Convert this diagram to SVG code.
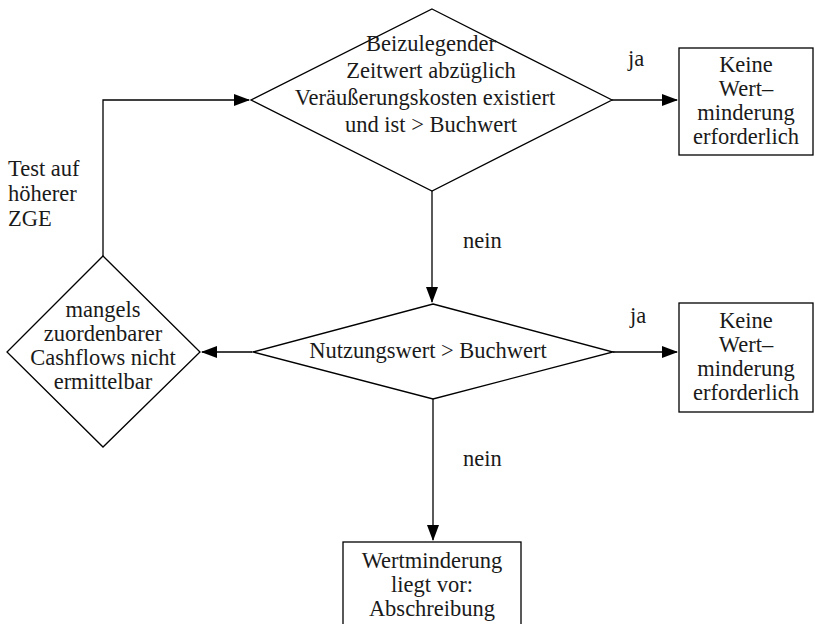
<svg xmlns="http://www.w3.org/2000/svg" width="815" height="624" viewBox="0 0 815 624">
<defs>
<marker id="arr" markerWidth="16" markerHeight="12" refX="15" refY="6" orient="auto" markerUnits="userSpaceOnUse">
<path d="M0,0 L16,6 L0,12 Z" fill="#000"/>
</marker>
<style>
.s{fill:#fff;stroke:#000;stroke-width:1.3}
.c{fill:none;stroke:#000;stroke-width:1.3}
.m{text-anchor:middle}
text{font-family:'Liberation Serif','Times New Roman',serif;font-size:22.5px;fill:#1a1a1a}
</style>
</defs>
<rect width="815" height="624" fill="#fff"/>
<g id="connectors">
<line class="c" x1="612" y1="100" x2="677" y2="100" marker-end="url(#arr)"/>
<line class="c" x1="432" y1="191" x2="432" y2="302" marker-end="url(#arr)"/>
<line class="c" x1="613" y1="352" x2="677" y2="352" marker-end="url(#arr)"/>
<line class="c" x1="252" y1="352" x2="202" y2="352" marker-end="url(#arr)"/>
<line class="c" x1="433" y1="399" x2="433" y2="540" marker-end="url(#arr)"/>
<polyline class="c" points="103,256 103,100 249,100" marker-end="url(#arr)"/>
<text x="628" y="66">ja</text>
<text x="630" y="323">ja</text>
<text x="463" y="248">nein</text>
<text x="463" y="466">nein</text>
<text x="8" y="176">Test auf</text>
<text x="8" y="201">höherer</text>
<text x="8" y="226">ZGE</text>
</g>
<g id="d1">
<polygon class="s" points="432,9 612,100 432,191 251,100"/>
<text class="m" x="431" y="51">Beizulegender</text>
<text class="m" x="431" y="78">Zeitwert abzüglich</text>
<text class="m" x="425" y="105">Veräußerungskosten existiert</text>
<text class="m" x="431" y="132">und ist &gt; Buchwert</text>
</g>
<g id="b1">
<rect class="s" x="679" y="48" width="134" height="107"/>
<text class="m" x="746" y="72">Keine</text>
<text class="m" x="746" y="96">Wert–</text>
<text class="m" x="746" y="120">minderung</text>
<text class="m" x="746" y="144">erforderlich</text>
</g>
<g id="d2">
<polygon class="s" points="433,304 613,352 433,399 253,352"/>
<text class="m" x="428" y="358">Nutzungswert &gt; Buchwert</text>
</g>
<g id="b2">
<rect class="s" x="679" y="303" width="134" height="109"/>
<text class="m" x="746" y="328">Keine</text>
<text class="m" x="746" y="352">Wert–</text>
<text class="m" x="746" y="376">minderung</text>
<text class="m" x="746" y="400">erforderlich</text>
</g>
<g id="d3">
<polygon class="s" points="103,256 200,352 103,447 7,352"/>
<text class="m" x="103" y="317">mangels</text>
<text class="m" x="103" y="341">zuordenbarer</text>
<text class="m" x="103" y="365">Cashflows nicht</text>
<text class="m" x="103" y="389">ermittelbar</text>
</g>
<g id="b3">
<rect class="s" x="343" y="542" width="178" height="100"/>
<text class="m" x="432" y="568">Wertminderung</text>
<text class="m" x="432" y="592">liegt vor:</text>
<text class="m" x="432" y="616">Abschreibung</text>
</g>
</svg>
